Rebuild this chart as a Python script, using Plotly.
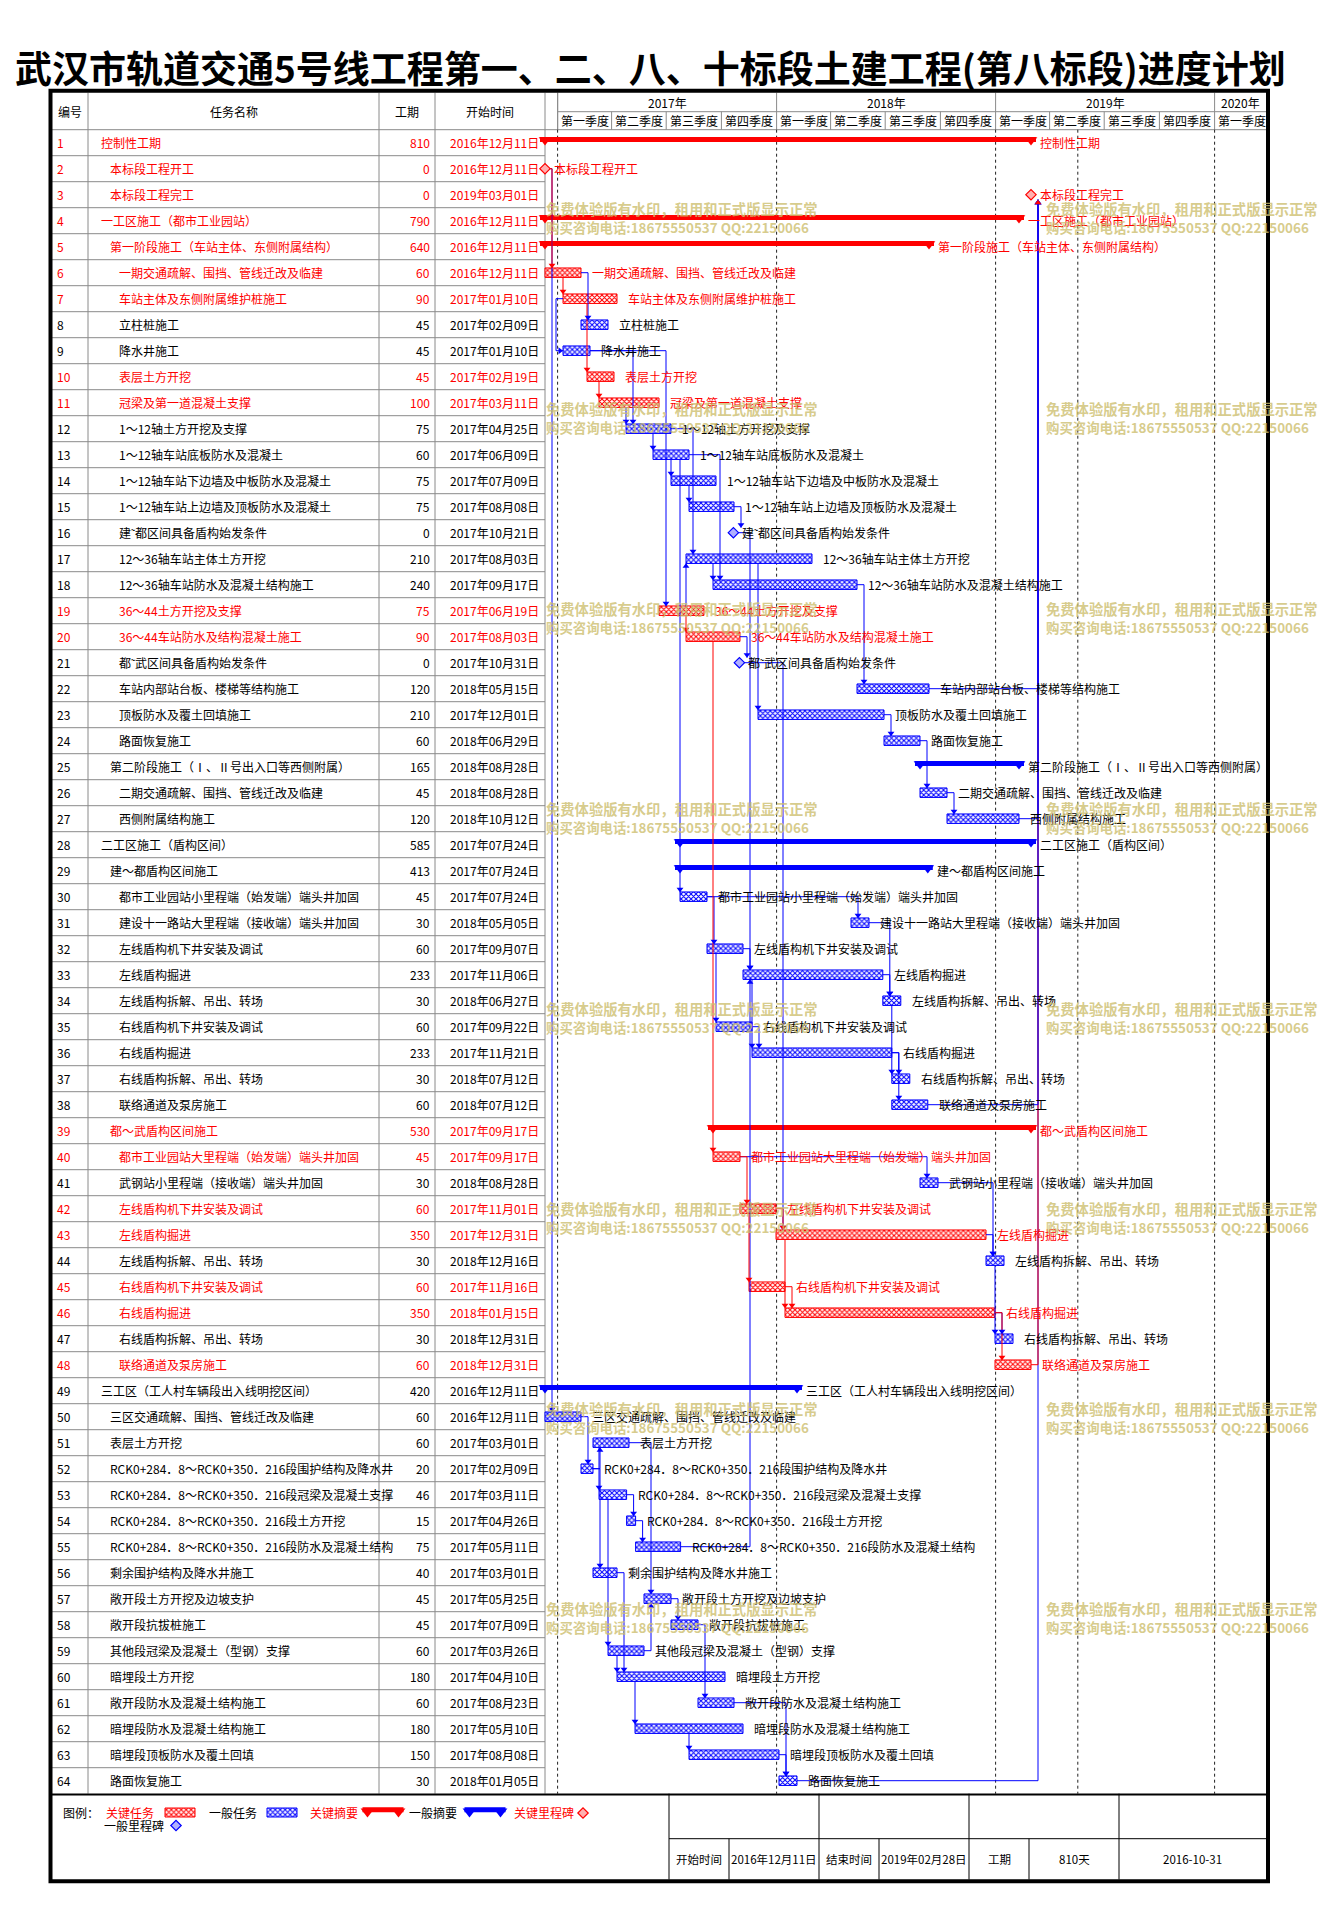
import plotly.graph_objects as go
from datetime import datetime, timedelta

# ---------------------------------------------------------------- data
task_names = [
    "控制性工期", "本标段工程开工", "本标段工程完工", "一工区施工（都市工业园站）",
    "第一阶段施工（车站主体、东侧附属结构）", "一期交通疏解、围挡、管线迁改及临建",
    "车站主体及东侧附属维护桩施工", "立柱桩施工", "降水井施工", "表层土方开挖",
    "冠梁及第一道混凝土支撑", "1～12轴土方开挖及支撑", "1～12轴车站底板防水及混凝土",
    "1～12轴车站下边墙及中板防水及混凝土", "1～12轴车站上边墙及顶板防水及混凝土",
    "建˜都区间具备盾构始发条件", "12～36轴车站主体土方开挖", "12～36轴车站防水及混凝土结构施工",
    "36～44土方开挖及支撑", "36～44车站防水及结构混凝土施工", "都˜武区间具备盾构始发条件",
    "车站内部站台板、楼梯等结构施工", "顶板防水及覆土回填施工", "路面恢复施工",
    "第二阶段施工（Ⅰ、Ⅱ号出入口等西侧附属）", "二期交通疏解、围挡、管线迁改及临建", "西侧附属结构施工",
    "二工区施工（盾构区间）", "建～都盾构区间施工", "都市工业园站小里程端（始发端）端头井加固",
    "建设十一路站大里程端（接收端）端头井加固", "左线盾构机下井安装及调试", "左线盾构掘进",
    "左线盾构拆解、吊出、转场", "右线盾构机下井安装及调试", "右线盾构掘进", "右线盾构拆解、吊出、转场",
    "联络通道及泵房施工", "都～武盾构区间施工", "都市工业园站大里程端（始发端）端头井加固",
    "武钢站小里程端（接收端）端头井加固", "左线盾构机下井安装及调试", "左线盾构掘进",
    "左线盾构拆解、吊出、转场", "右线盾构机下井安装及调试", "右线盾构掘进", "右线盾构拆解、吊出、转场",
    "联络通道及泵房施工", "三工区（工人村车辆段出入线明挖区间）", "三区交通疏解、围挡、管线迁改及临建",
    "表层土方开挖", "RCK0+284．8～RCK0+350．216段围护结构及降水井",
    "RCK0+284．8～RCK0+350．216段冠梁及混凝土支撑", "RCK0+284．8～RCK0+350．216段土方开挖",
    "RCK0+284．8～RCK0+350．216段防水及混凝土结构", "剩余围护结构及降水井施工",
    "敞开段土方开挖及边坡支护", "敞开段抗拔桩施工", "其他段冠梁及混凝土（型钢）支撑",
    "暗埋段土方开挖", "敞开段防水及混凝土结构施工", "暗埋段防水及混凝土结构施工",
    "暗埋段顶板防水及覆土回填", "路面恢复施工",
]
task_durations = [810, 0, 0, 790, 640, 60, 90, 45, 45, 45,
                  100, 75, 60, 75, 75, 0, 210, 240, 75, 90,
                  0, 120, 210, 60, 165, 45, 120, 585, 413, 45,
                  30, 60, 233, 30, 60, 233, 30, 60, 530, 45,
                  30, 60, 350, 30, 60, 350, 30, 60, 420, 60,
                  60, 20, 46, 15, 75, 40, 45, 45, 60, 180,
                  60, 180, 150, 30]
task_starts = [
    "2016-12-11", "2016-12-11", "2019-03-01", "2016-12-11", "2016-12-11", "2016-12-11", "2017-01-10",
    "2017-02-09", "2017-01-10", "2017-02-19", "2017-03-11", "2017-04-25", "2017-06-09", "2017-07-09",
    "2017-08-08", "2017-10-21", "2017-08-03", "2017-09-17", "2017-06-19", "2017-08-03", "2017-10-31",
    "2018-05-15", "2017-12-01", "2018-06-29", "2018-08-28", "2018-08-28", "2018-10-12", "2017-07-24",
    "2017-07-24", "2017-07-24", "2018-05-05", "2017-09-07", "2017-11-06", "2018-06-27", "2017-09-22",
    "2017-11-21", "2018-07-12", "2018-07-12", "2017-09-17", "2017-09-17", "2018-08-28", "2017-11-01",
    "2017-12-31", "2018-12-16", "2017-11-16", "2018-01-15", "2018-12-31", "2018-12-31", "2016-12-11",
    "2016-12-11", "2017-03-01", "2017-02-09", "2017-03-11", "2017-04-26", "2017-05-11", "2017-03-01",
    "2017-05-25", "2017-07-09", "2017-03-26", "2017-04-10", "2017-08-23", "2017-05-10", "2017-08-08",
    "2018-01-05",
]
task_critical = [1, 1, 1, 1, 1, 1, 1, 0, 0, 1,
                 1, 0, 0, 0, 0, 0, 0, 0, 1, 1,
                 0, 0, 0, 0, 0, 0, 0, 0, 0, 0,
                 0, 0, 0, 0, 0, 0, 0, 0, 1, 1,
                 0, 1, 1, 0, 1, 1, 0, 1, 0, 0,
                 0, 0, 0, 0, 0, 0, 0, 0, 0, 0,
                 0, 0, 0, 0]
# S = summary, M = milestone, T = task
task_kind = list("SMMSS" "TTTTTTTTTT" "M" "TTTT" "M" "TTT" "S" "TT" "SS"
                 "TTTTTTTTT" "S" "TTTTTTTTT" "S" "TTTTTTTTTTTTTTT")
task_level = [0, 1, 1, 0, 1,
              2, 2, 2, 2, 2, 2, 2, 2, 2, 2, 2, 2, 2, 2, 2, 2, 2, 2, 2,
              1, 2, 2, 0, 1,
              2, 2, 2, 2, 2, 2, 2, 2, 2,
              1, 2, 2, 2, 2, 2, 2, 2, 2, 2,
              0, 1, 1, 1, 1, 1, 1, 1, 1, 1, 1, 1, 1, 1, 1, 1]
# predecessor -> successor (draw order)
task_links = [
    (2, 50), (2, 6), (6, 7), (6, 8), (7, 9), (7, 10), (10, 11), (11, 12), (9, 12), (9, 19),
    (12, 13), (13, 14), (14, 15), (15, 16), (12, 17), (19, 17), (13, 18), (17, 18), (19, 20),
    (20, 21), (16, 33), (18, 22), (17, 23), (23, 24), (24, 26), (26, 27),
    (64, 3), (48, 3), (22, 3), (27, 3), (38, 3),
    (13, 30), (30, 31), (30, 32), (31, 34), (32, 33), (55, 33), (33, 34), (32, 35), (33, 36),
    (35, 36), (34, 37), (36, 37), (36, 38), (20, 40), (40, 41), (40, 42), (21, 43), (42, 43),
    (42, 45), (43, 44), (41, 44), (43, 46), (45, 46), (44, 47), (46, 47), (46, 48),
    (50, 52), (52, 51), (51, 53), (52, 56), (53, 54), (54, 55), (53, 59), (51, 57), (59, 57),
    (57, 58), (59, 60), (56, 60), (58, 61), (60, 62), (62, 63), (61, 64), (63, 64),
]
year_labels = ["2017年", "2018年", "2019年", "2020年"]
quarter_labels = ["第一季度", "第二季度", "第三季度", "第四季度"]
status_date = "2019-05-18"
title_text = "武汉市轨道交通5号线工程第一、二、八、十标段土建工程(第八标段)进度计划"
wm_line1 = "免费体验版有水印，租用和正式版显示正常"
wm_line2 = "购买咨询电话:18675550537 QQ:22150066"
footer_labels = ["开始时间", "2016年12月11日", "结束时间", "2019年02月28日", "工期", "810天", "2016-10-31"]

assert len(task_names) == len(task_durations) == len(task_starts) == len(task_critical) == len(task_kind) == len(task_level) == 64

# ---------------------------------------------------------------- layout geometry (page pixels)
W, H = 1329, 1931
OX, OY = 8, 8          # page margin of the html body
FONT = "Noto Sans CJK SC"
RED, BLUE, GRID = "#ff0000", "#0000ff", "#8a8a8a"
GX0 = 545.0           # px where the project start sits
GX1 = 1267.0          # right edge of chart area
DAY_PX = 0.6          # px per day
ROW0, ROW_H = 129.7, 26.0
D0 = datetime(2016, 12, 11)
N = len(task_names)
MS = 86400000


def ry(px):            # page pixel -> row coordinate
    return (px - ROW0) / ROW_H + 0.5


def dd(days):
    return D0 + timedelta(days=days)


def pxd(px):           # pixel length -> days
    return px / DAY_PX


def date_at(px):
    return dd((px - GX0) / DAY_PX)


def xp(px):
    return (px - OX) / W


def yp(px):
    return 1 - (px - OY) / H


def to_day(s):
    return (datetime.strptime(s, "%Y-%m-%d") - D0).days


sd = [to_day(s) for s in task_starts]
ed = [sd[i] + task_durations[i] for i in range(N)]
rows = list(range(1, N + 1))

fig = go.Figure()

# ---------------------------------------------------------------- link lines
OFF = pxd(7)
HB = {"T": 4.5 / ROW_H, "M": 5.0 / ROW_H, "S": 2 / ROW_H}
AH = 3.0 / ROW_H
arrows = {RED: ([], [], []), BLUE: ([], [], [])}
for p, s in task_links:
    i, j = p - 1, s - 1
    col = RED if (task_critical[i] and task_critical[j]) else BLUE
    ps, pe, ss = sd[i], ed[i], sd[j]
    sg = 1 if s > p else -1
    hp, hs = HB[task_kind[i]], HB[task_kind[j]]
    sym = "triangle-down" if sg > 0 else "triangle-up"
    if ss >= pe - 2:
        xv = max(pe, ss) + OFF
        xs = [pe, xv, xv]
        ys = [p, p, s - sg * hs]
        arr = (xv, s - sg * (hs + AH), sym)
    elif ss > ps:
        xs = [ss, ss]
        ys = [p + sg * hp, s - sg * hs]
        arr = (ss, s - sg * (hs + AH), sym)
    else:
        xl = ps - OFF
        xs = [ps, xl, xl, ss]
        ys = [p, p, s, s]
        arr = (ss - pxd(3), s, "triangle-right")
    fig.add_trace(go.Scatter(x=[dd(v) for v in xs], y=ys, mode="lines",
                             line=dict(color=col, width=1), hoverinfo="skip", cliponaxis=False))
    arrows[col][0].append(dd(arr[0]))
    arrows[col][1].append(arr[1])
    arrows[col][2].append(arr[2])

# ---------------------------------------------------------------- bars
for crit, col in ((1, RED), (0, BLUE)):
    idx = [i for i in range(N) if task_kind[i] == "T" and task_critical[i] == crit]
    fig.add_trace(go.Bar(
        orientation="h", y=[rows[i] for i in idx], base=[dd(sd[i]) for i in idx],
        x=[task_durations[i] * MS for i in idx], width=9.5 / ROW_H,
        marker=dict(color="white", line=dict(color=col, width=1),
                    pattern=dict(shape="x", fgcolor=col, bgcolor="white", size=3.5,
                                 solidity=0.5, fillmode="replace")),
        hoverinfo="skip"))
    # summaries
    idx = [i for i in range(N) if task_kind[i] == "S" and task_critical[i] == crit]
    ext = pxd(5)
    fig.add_trace(go.Bar(
        orientation="h", y=[rows[i] for i in idx], base=[dd(sd[i] - ext) for i in idx],
        x=[(task_durations[i] + 2 * ext) * MS for i in idx], width=4.8 / ROW_H, offset=-5.6 / ROW_H,
        marker=dict(color=col, line=dict(width=0)), hoverinfo="skip"))
    fig.add_trace(go.Scatter(
        x=[dd(sd[i]) for i in idx] + [dd(ed[i]) for i in idx],
        y=[rows[i] - 2.6 / ROW_H for i in idx] * 2, mode="markers",
        marker=dict(symbol="triangle-down", size=11, color=col, line=dict(width=0)),
        hoverinfo="skip", cliponaxis=False))
    # milestones
    idx = [i for i in range(N) if task_kind[i] == "M" and task_critical[i] == crit]
    fig.add_trace(go.Scatter(
        x=[dd(sd[i]) for i in idx], y=[rows[i] for i in idx], mode="markers",
        marker=dict(symbol="diamond", size=8, color="#ffb0b0" if crit else "#b0b0ff",
                    line=dict(color=col, width=1.2)),
        hoverinfo="skip", cliponaxis=False))

for col in (BLUE, RED):
    xs, ys, syms = arrows[col]
    fig.add_trace(go.Scatter(x=xs, y=ys, mode="markers",
                             marker=dict(symbol=syms, size=6, color=col, line=dict(width=0)),
                             hoverinfo="skip", cliponaxis=False))

# ---------------------------------------------------------------- legend swatches (pixel axis x2)
LY1, LY2 = 1812.5, 1825.0
for base, col in ((165, RED), (267, BLUE)):
    fig.add_trace(go.Bar(
        orientation="h", xaxis="x2", y=[ry(LY1)], base=[base], x=[30], width=9 / ROW_H,
        marker=dict(color="white", line=dict(color=col, width=1),
                    pattern=dict(shape="x", fgcolor=col, bgcolor="white", size=3.5,
                                 solidity=0.5, fillmode="replace")),
        hoverinfo="skip"))
for x0, col in ((362.5, RED), (464.5, BLUE)):
    fig.add_trace(go.Scatter(xaxis="x2", x=[x0, x0 + 41], y=[ry(1809.7)] * 2, mode="lines",
                             line=dict(color=col, width=5), hoverinfo="skip", cliponaxis=False))
    fig.add_trace(go.Scatter(xaxis="x2", x=[x0 + 5, x0 + 36], y=[ry(1811.5)] * 2, mode="markers",
                             marker=dict(symbol="triangle-down", size=12, color=col),
                             hoverinfo="skip", cliponaxis=False))
fig.add_trace(go.Scatter(xaxis="x2", x=[583, 176], y=[ry(1813), ry(1825.5)], mode="markers",
                         marker=dict(symbol="diamond", size=8, color=["#ffb0b0", "#b0b0ff"],
                                     line=dict(color=[RED, BLUE], width=1.2)),
                         hoverinfo="skip", cliponaxis=False))

# ---------------------------------------------------------------- shapes
shapes = []


def pline(x0, y0, x1, y1, color=GRID, width=1, dash="solid", xref="paper", yref="paper"):
    shapes.append(dict(type="line", xref=xref, yref=yref, x0=x0, x1=x1, y0=y0, y1=y1,
                       line=dict(color=color, width=width, dash=dash), layer="below"))


HDR_TOP, HDR_MID, HDR_BOT = 92.7, 111.7, ROW0
TBL_BOT = ROW0 + ROW_H * N
# table horizontal lines
for k in range(1, N):
    pline(xp(52), k + 0.5, xp(GX0), k + 0.5, yref="y")
pline(xp(52), yp(HDR_BOT), xp(GX1), yp(HDR_BOT))
# table column lines
for cx in (88, 379, 435, GX0):
    pline(xp(cx), yp(HDR_TOP), xp(cx), yp(TBL_BOT))
pline(xp(557.7), yp(HDR_TOP), xp(557.7), yp(HDR_BOT))
# time header
years = [datetime(y, 1, 1) for y in (2017, 2018, 2019, 2020)]
pline(years[0], yp(HDR_MID), date_at(GX1), yp(HDR_MID), xref="x")
quarters = [datetime(y, m, 1) for y in (2017, 2018, 2019, 2020) for m in (1, 4, 7, 10)][:13]
for q in quarters:
    pline(q, yp(HDR_MID), q, yp(HDR_BOT), xref="x")
for y0 in years:
    pline(y0, yp(HDR_TOP), y0, yp(HDR_MID), xref="x")
# dotted time lines in gantt body
for dline in years[:3] + [datetime.strptime(status_date, "%Y-%m-%d")] + years[3:]:
    pline(dline, yp(HDR_BOT), dline, yp(TBL_BOT), color="#222222", dash="dot", xref="x")

# footer
FT_MID, FT_BOT = 1838.7, 1879.5
pline(xp(52), yp(TBL_BOT + 0.8), xp(GX1), yp(TBL_BOT + 0.8), color="black", width=2)
for cx in (669, 819, 969, 1119):
    pline(xp(cx), yp(TBL_BOT), xp(cx), yp(FT_BOT), color="black")
for cx in (729, 879, 1029):
    pline(xp(cx), yp(FT_MID), xp(cx), yp(FT_BOT), color="black")
pline(xp(669), yp(FT_MID), xp(GX1), yp(FT_MID), color="black")
# outer border
shapes.append(dict(type="rect", xref="paper", yref="paper", x0=xp(50.5), x1=xp(1268),
                   y0=yp(90.8), y1=yp(1881.3), line=dict(color="black", width=4), layer="above"))

# ---------------------------------------------------------------- annotations
ann = []


def txt(x, y, s, size=12, color="black", xanchor="left", xref="paper", yref="y", xshift=0,
        yanchor="middle", opacity=1.0):
    ann.append(dict(x=x, y=y, xref=xref, yref=yref, text=s, showarrow=False, xanchor=xanchor,
                    yanchor=yanchor, xshift=xshift, opacity=opacity,
                    font=dict(family=FONT, size=size, color=color)))


# title
txt(xp(650), yp(67), "<b>" + title_text + "</b>", size=37, xanchor="center", yref="paper")
# table header
hc = ry((HDR_TOP + HDR_BOT) / 2)
txt(xp(70), hc, "编号", xanchor="center")
txt(xp(233.5), hc, "任务名称", xanchor="center")
txt(xp(407), hc, "工期", xanchor="center")
txt(xp(490), hc, "开始时间", xanchor="center")
ybounds = years + [date_at(GX1)]
for k, lab in enumerate(year_labels):
    mid = ybounds[k] + (ybounds[k + 1] - ybounds[k]) / 2
    txt(mid, ry((HDR_TOP + HDR_MID) / 2), lab, xanchor="center", xref="x")
qb = quarters + [date_at(GX1 + 2)]
for k in range(len(quarters)):
    mid = qb[k] + (qb[k + 1] - qb[k]) / 2
    txt(mid, ry((HDR_MID + HDR_BOT) / 2), quarter_labels[k % 4], xanchor="center", xref="x")

# table body + bar labels
for i in range(N):
    r = rows[i]
    col = RED if task_critical[i] else "black"
    dt = datetime.strptime(task_starts[i], "%Y-%m-%d")
    txt(xp(55), r, str(r), color=col)
    txt(xp(98.5 + 9 * task_level[i]), r, task_names[i], color=col)
    txt(xp(432), r, str(task_durations[i]), color=col, xanchor="right")
    txt(xp(541), r, f"{dt.year}年{dt.month:02d}月{dt.day:02d}日", color=col, xanchor="right")
    shift = 9 if task_kind[i] == "T" else 7
    txt(dd(ed[i]), r, task_names[i], color=col, xref="x", xshift=shift)

# legend texts
txt(xp(61), ry(LY1), "图例：")
txt(xp(104), ry(LY1), "关键任务", color=RED)
txt(xp(207), ry(LY1), "一般任务")
txt(xp(308), ry(LY1), "关键摘要", color=RED)
txt(xp(407), ry(LY1), "一般摘要")
txt(xp(512), ry(LY1), "关键里程碑", color=RED)
txt(xp(102), ry(LY2), "一般里程碑")

# footer texts
fcells = [(669, 729), (729, 819), (819, 879), (879, 969), (969, 1029), (1029, 1119), (1119, 1266)]
for (a, b), lab in zip(fcells, footer_labels):
    txt(xp((a + b) / 2), ry((FT_MID + FT_BOT) / 2), lab, size=11.5, xanchor="center")

# watermarks
for k in range(8):
    for wx in (545.6, 1046.0):
        txt(xp(wx), yp(208.5 + 200 * k), "<b>" + wm_line1 + "</b>", size=14.3,
            color="rgba(205,190,110,0.8)", yref="paper", xshift=-2)
        txt(xp(wx), yp(226.5 + 200 * k), "<b>" + wm_line2 + "</b>", size=13.4,
            color="rgba(205,190,110,0.8)", yref="paper", xshift=-2)

# ---------------------------------------------------------------- layout
fig.update_layout(
    width=W, height=H, autosize=False, margin=dict(l=0, r=0, t=0, b=0, pad=0),
    paper_bgcolor="white", plot_bgcolor="white", showlegend=False, barmode="overlay",
    xaxis=dict(type="date", domain=[0, 1], range=[date_at(OX), date_at(OX + W)], visible=False,
               fixedrange=True),
    xaxis2=dict(domain=[0, 1], range=[OX, OX + W], visible=False, anchor="y", overlaying="x",
                fixedrange=True),
    yaxis=dict(domain=[0, 1], range=[ry(OY + H), ry(OY)], visible=False, fixedrange=True),
    shapes=shapes, annotations=ann,
)
fig.write_html("out.html")
